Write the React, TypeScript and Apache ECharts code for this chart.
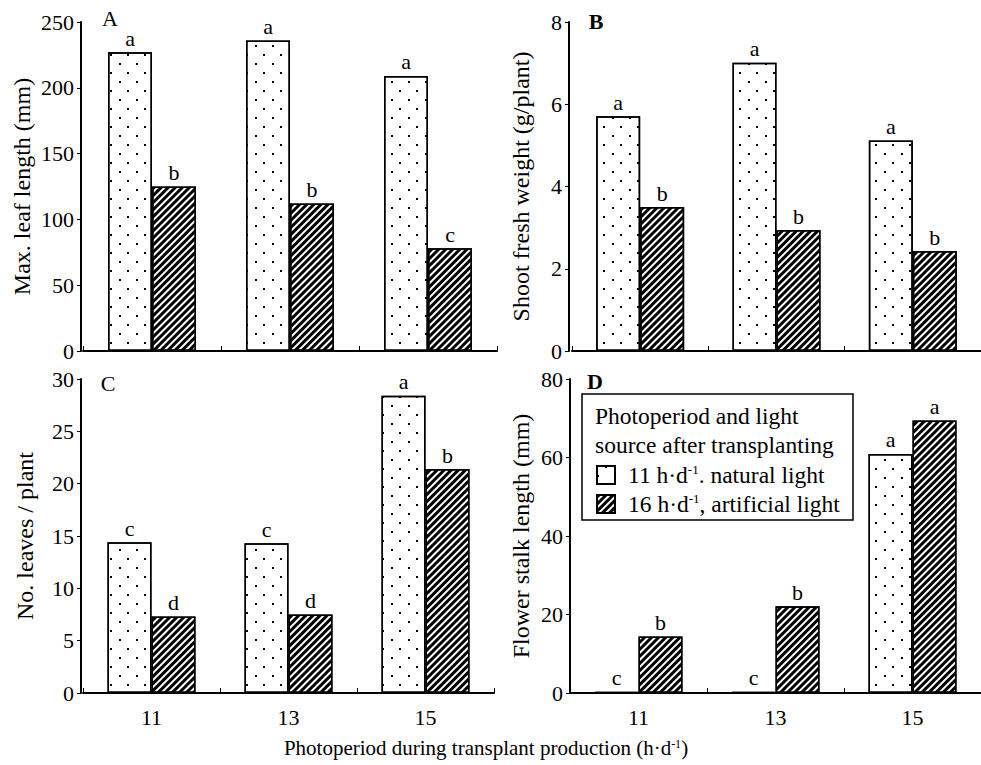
import React, { useEffect, useRef } from "react";
import * as echarts from "echarts";

const categories = ["11", "13", "15"];

const leafNatural = [227, 236, 209];
const leafArtificial = [125, 112, 78];
const leafLettersNatural = ["a", "a", "a"];
const leafLettersArtificial = ["b", "b", "c"];

const weightNatural = [5.71, 7.01, 5.12];
const weightArtificial = [3.5, 2.94, 2.43];
const weightLettersNatural = ["a", "a", "a"];
const weightLettersArtificial = ["b", "b", "b"];

const leavesNatural = [14.4, 14.3, 28.4];
const leavesArtificial = [7.3, 7.5, 21.4];
const leavesLettersNatural = ["c", "c", "a"];
const leavesLettersArtificial = ["d", "d", "b"];

const stalkNatural = [0.3, 0.3, 60.9];
const stalkArtificial = [14.4, 22.1, 69.4];
const stalkLettersNatural = ["c", "c", "a"];
const stalkLettersArtificial = ["b", "b", "a"];

const panelLetters = ["A", "B", "C", "D"];
const yTitles = [
  "Max. leaf length (mm)",
  "Shoot fresh weight (g/plant)",
  "No. leaves / plant",
  "Flower stalk length (mm)",
];
const yMax = [250, 8, 30, 80];
const yInterval = [50, 2, 5, 20];
const xTitle = "Photoperiod during transplant production (h·d{sup|-1})";
const legendTitle = ["Photoperiod and light", "source after transplanting"];
const legendLabels: Record<string, string> = {
  natural: "11 h·d{sup|-1}. natural light",
  artificial: "16 h·d{sup|-1}, artificial light",
};

const FONT = "Liberation Serif";

const dotDecal = {
  symbol: "rect",
  symbolSize: 1,
  color: "#000",
  backgroundColor: "#fff",
  dashArrayX: [
    [1.6, 14.4],
    [0, 8, 1.6, 6.4],
  ],
  dashArrayY: [1.6, 6.4],
  rotation: 0,
};

const hatchDecal = {
  symbol: "rect",
  symbolSize: 1,
  color: "#000",
  backgroundColor: "#fff",
  dashArrayX: [1, 0],
  dashArrayY: [2.2, 1.5],
  rotation: -Math.PI / 4,
};

export default function App() {
  const ref = useRef<HTMLDivElement>(null);

  useEffect(() => {
    if (!ref.current) return;
    const chart = echarts.init(ref.current, null, { renderer: "svg" });

    const grids = [
      { left: 83, top: 22, width: 414, height: 329 },
      { left: 572, top: 22, width: 412, height: 329 },
      { left: 83, top: 379, width: 411, height: 314 },
      { left: 570, top: 379, width: 411, height: 314 },
    ];
    const yOffsets = [2, 3, 2, 0];
    const nameGaps = [47, 36, 44, 37];

    const nat = [leafNatural, weightNatural, leavesNatural, stalkNatural];
    const art = [leafArtificial, weightArtificial, leavesArtificial, stalkArtificial];
    const natL = [leafLettersNatural, weightLettersNatural, leavesLettersNatural, stalkLettersNatural];
    const artL = [
      leafLettersArtificial,
      weightLettersArtificial,
      leavesLettersArtificial,
      stalkLettersArtificial,
    ];

    const labelStyle = (letters: string[]) => ({
      show: true,
      position: "top",
      distance: 3,
      color: "#000",
      fontSize: 22,
      fontFamily: FONT,
      formatter: (p: any) => letters[p.dataIndex],
    });

    const series: any[] = [];
    for (let i = 0; i < 4; i++) {
      series.push({
        type: "bar",
        name: "natural",
        xAxisIndex: i,
        yAxisIndex: i,
        data: nat[i],
        barWidth: 44,
        barGap: "0%",
        itemStyle: { color: "#fff", borderColor: "#000", borderWidth: 1.5, decal: dotDecal },
        label: labelStyle(natL[i]),
      });
      series.push({
        type: "bar",
        name: "artificial",
        xAxisIndex: i,
        yAxisIndex: i,
        data: art[i],
        barWidth: 44,
        barGap: "0%",
        itemStyle: { color: "#fff", borderColor: "#000", borderWidth: 1.5, decal: hatchDecal },
        label: labelStyle(artL[i]),
      });
    }

    const option: any = {
      animation: false,
      backgroundColor: "#fff",
      textStyle: { fontFamily: FONT, color: "#000" },
      grid: grids,
      xAxis: grids.map((_, i) => ({
        type: "category",
        gridIndex: i,
        data: categories,
        axisLine: { show: true, lineStyle: { color: "#000", width: 2 } },
        axisTick: { show: true, inside: true, length: 5, lineStyle: { color: "#000", width: 1 } },
        axisLabel: {
          show: i >= 2,
          color: "#000",
          fontSize: 22,
          fontFamily: FONT,
          margin: 13,
        },
        splitLine: { show: false },
      })),
      yAxis: grids.map((_, i) => ({
        type: "value",
        gridIndex: i,
        min: 0,
        max: yMax[i],
        interval: yInterval[i],
        offset: yOffsets[i],
        name: yTitles[i],
        nameLocation: "middle",
        nameRotate: 90,
        nameGap: nameGaps[i],
        nameTextStyle: { color: "#000", fontSize: 24, fontFamily: FONT },
        axisLine: { show: true, lineStyle: { color: "#000", width: 2 } },
        axisTick: { show: true, inside: false, length: 4, lineStyle: { color: "#000", width: 1 } },
        axisLabel: { color: "#000", fontSize: 22, fontFamily: FONT, margin: 7 },
        splitLine: { show: false },
      })),
      legend: {
        data: ["natural", "artificial"],
        orient: "vertical",
        left: 596,
        top: 463,
        icon: "rect",
        itemWidth: 18,
        itemHeight: 18,
        itemGap: 5,
        padding: 0,
        selectedMode: false,
        formatter: (name: string) => legendLabels[name],
        textStyle: {
          color: "#000",
          fontSize: 23.5,
          fontFamily: FONT,
          padding: [0, 0, 0, 8],
          rich: {
            sup: { fontSize: 13, fontFamily: FONT, color: "#000", verticalAlign: "top", padding: [0, 0, 11, 0] },
          },
        },
      },
      graphic: [
        {
          type: "rect",
          z: 1,
          shape: { x: 582, y: 394, width: 271, height: 126 },
          style: { fill: "#fff", stroke: "#000", lineWidth: 1.5 },
        },
        {
          type: "text",
          z: 5,
          x: 595,
          y: 416,
          style: { text: legendTitle[0], fontSize: 23.5, fontFamily: FONT, fill: "#000", verticalAlign: "middle" },
        },
        {
          type: "text",
          z: 5,
          x: 595,
          y: 445,
          style: { text: legendTitle[1], fontSize: 23.5, fontFamily: FONT, fill: "#000", verticalAlign: "middle" },
        },
        {
          type: "text",
          x: 110,
          y: 18,
          style: { text: panelLetters[0], fontSize: 22, fontFamily: FONT, fill: "#000", align: "center", verticalAlign: "middle" },
        },
        {
          type: "text",
          x: 596,
          y: 21,
          style: { text: panelLetters[1], fontSize: 22, fontWeight: "bold", fontFamily: FONT, fill: "#000", align: "center", verticalAlign: "middle" },
        },
        {
          type: "text",
          x: 108,
          y: 383,
          style: { text: panelLetters[2], fontSize: 22, fontFamily: FONT, fill: "#000", align: "center", verticalAlign: "middle" },
        },
        {
          type: "text",
          x: 595,
          y: 381,
          style: { text: panelLetters[3], fontSize: 22, fontWeight: "bold", fontFamily: FONT, fill: "#000", align: "center", verticalAlign: "middle" },
        },
        {
          type: "text",
          x: 486,
          y: 748,
          style: {
            text: xTitle,
            fontSize: 21,
            fontFamily: FONT,
            fill: "#000",
            align: "center",
            verticalAlign: "middle",
            rich: {
              sup: { fontSize: 12, fontFamily: FONT, fill: "#000", verticalAlign: "top", padding: [0, 0, 9, 0] },
            },
          },
        },
      ],
      series,
    };

    chart.setOption(option);
    return () => chart.dispose();
  }, []);

  return (
    <div
      ref={ref}
      style={{ position: "fixed", left: 0, top: 0, width: 981, height: 765, background: "#fff" }}
    />
  );
}
